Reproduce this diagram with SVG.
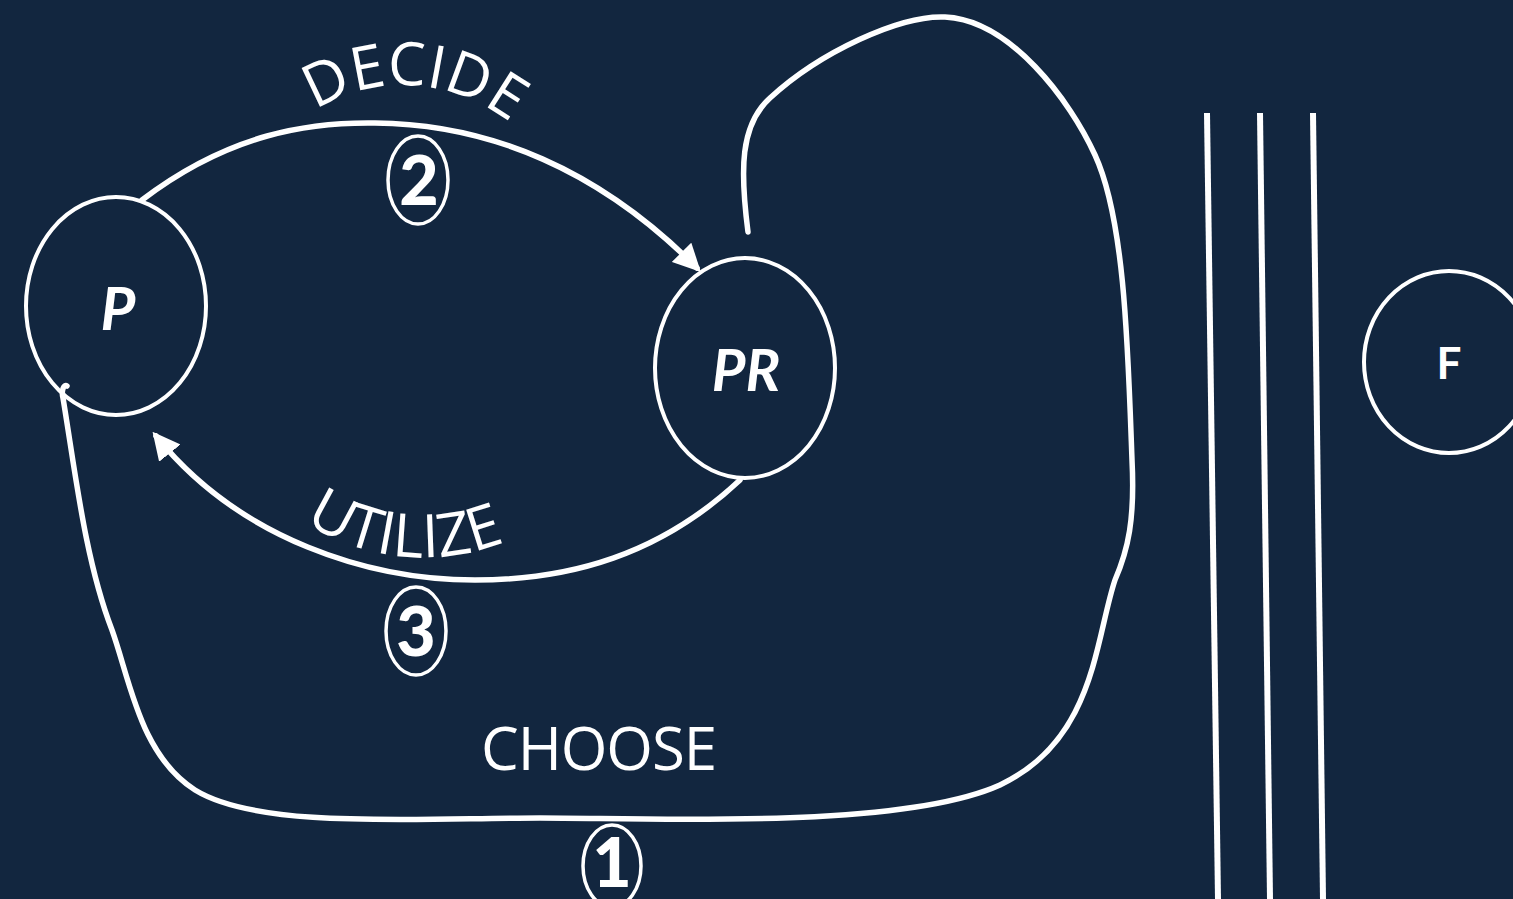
<svg xmlns="http://www.w3.org/2000/svg" width="1513" height="899" viewBox="0 0 1513 899">
  <style>
    .node { fill: none; stroke: #ffffff; stroke-width: 4; }
    .link { fill: none; stroke: #ffffff; stroke-width: 5.5; stroke-linecap: round; }
    .wall { fill: none; stroke: #ffffff; stroke-width: 6; }
    .label { fill: #ffffff; font-family: "Open Sans", Lato, "Liberation Sans", sans-serif; }
    .name { fill: #ffffff; font-family: Lato, "Open Sans", "Liberation Sans", sans-serif; font-weight: 700; text-anchor: middle; }
    .step { fill: none; stroke: #ffffff; stroke-width: 3.5; }
    .num { fill: #ffffff; font-family: Lato, "Open Sans", "Liberation Sans", sans-serif; font-weight: 900; font-size: 68px; text-anchor: middle; }
  </style>
  <defs>
    <marker id="arrow" viewBox="0 0 10 10" refX="8" refY="5" markerWidth="5" markerHeight="5" orient="auto" markerUnits="strokeWidth">
      <path d="M0,0 L10,5 L0,10 z" fill="#ffffff"/>
    </marker>
    <path id="decidePath" d="M296,128 C 345,74 455,64 530,140"/>
    <path id="utilizePath" d="M292,512 C 360,568 455,568 520,535"/>
  </defs>

  <rect width="1513" height="899" fill="#12263f"/>

  <!-- separating wall -->
  <g id="wall">
    <line class="wall" x1="1207" y1="113" x2="1218" y2="899"/>
    <line class="wall" x1="1260" y1="113" x2="1270" y2="899"/>
    <line class="wall" x1="1313" y1="113" x2="1323" y2="899"/>
  </g>

  <g id="connectors">
    <!-- DECIDE: P to PR -->
    <path class="link" marker-end="url(#arrow)" d="M142,200 C 230,133 310,122 375,123 C 490,124 600,170 697,268"/>
    <!-- UTILIZE: PR back to P -->
    <path class="link" marker-end="url(#arrow)" d="M740,480 C 660,555 570,580 475,580 C 370,580 240,540 156,436"/>
    <!-- CHOOSE: large loop from PR round to P -->
    <path class="link" d="M748,232 C 740,170 740,125 770,98 C 820,52 900,15 945,17 C 1010,20 1070,100 1095,155 C 1125,220 1128,350 1132,460 C 1135,520 1128,550 1115,580 C 1095,640 1095,740 1000,785 C 900,830 650,818 540,818 C 420,818 260,830 195,790 C 140,755 130,680 112,630 C 85,560 75,470 63,398 C 61,390 64,384 67,386"/>
  </g>

  <g id="node-p">
    <ellipse class="node" cx="116" cy="306" rx="90" ry="109"/>
    <text class="name" x="118" y="330" font-size="60" font-style="italic">P</text>
  </g>

  <g id="node-pr">
    <ellipse class="node" cx="745" cy="368" rx="90" ry="110"/>
    <text class="name" x="746" y="391" font-size="58" font-style="italic">PR</text>
  </g>

  <g id="node-f">
    <ellipse class="node" cx="1449" cy="362" rx="85" ry="91"/>
    <text class="name" x="1449" y="379" font-size="44">F</text>
  </g>

  <g id="label-decide">
    <text class="label" font-size="60"><textPath href="#decidePath" startOffset="50%" text-anchor="middle">DECIDE</textPath></text>
    <ellipse class="step" cx="418" cy="180" rx="30" ry="44"/>
    <text class="num" x="419" y="205">2</text>
  </g>

  <g id="label-utilize">
    <text class="label" font-size="60"><textPath href="#utilizePath" startOffset="50%" text-anchor="middle">UTILIZE</textPath></text>
    <ellipse class="step" cx="416" cy="631" rx="30" ry="44"/>
    <text class="num" x="416" y="656">3</text>
  </g>

  <g id="label-choose">
    <text class="label" x="599" y="770" font-size="60" text-anchor="middle" textLength="236">CHOOSE</text>
    <ellipse class="step" cx="612" cy="866" rx="29" ry="41"/>
    <text class="num" x="612" y="887" font-size="60">1</text>
  </g>
</svg>
